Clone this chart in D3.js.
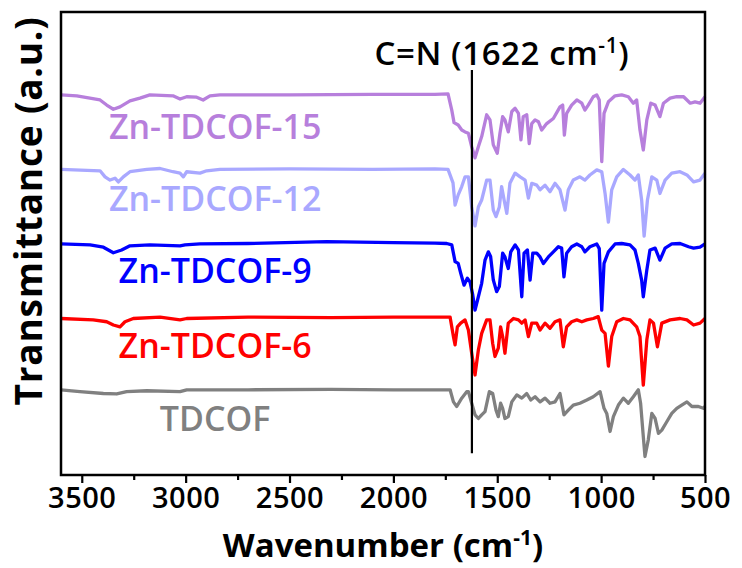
<!DOCTYPE html>
<html>
<head>
<meta charset="utf-8">
<script src="https://cdn.jsdelivr.net/npm/d3@7"></script>
<style>
  html, body { margin: 0; padding: 0; background: #fff; }
  svg { display: block; }
  text { font-family: "Open Sans", "Noto Sans", sans-serif; }
</style>
</head>
<body>
<svg id="chart" width="742" height="568"></svg>
<script>
// FTIR spectra, stacked (wavenumber in cm-1, transmittance in a.u.)
const seriesNames = ["Zn-TDCOF-15", "Zn-TDCOF-12", "Zn-TDCOF-9", "Zn-TDCOF-6", "TDCOF"];
const seriesColors = ["#b77fdc", "#a9a8ff", "#0000ff", "#ff0000", "#808080"];

const znTdcof15 = [
  [3600, 82.1], [3524, 81.9], [3412, 81.0], [3380, 79.9], [3348, 79.0], [3316, 79.5], [3268, 80.8],
  [3220, 81.4], [3172, 82.1], [3061, 81.9], [3027, 81.2], [2995, 81.7], [2947, 81.6], [2916, 81.0],
  [2883, 81.9], [2835, 82.1], [2500, 82.1], [2100, 82.2], [1800, 82.2], [1737, 82.3], [1719, 78.8],
  [1708, 76.1], [1688, 75.6], [1671, 74.5], [1655, 74.1], [1639, 73.8], [1623, 70.9], [1607, 68.5],
  [1591, 70.9], [1575, 73.1], [1551, 77.8], [1535, 76.7], [1519, 71.3], [1500, 69.5], [1487, 73.8],
  [1474, 77.4], [1463, 76.7], [1447, 74.1], [1430, 78.5], [1414, 79.2], [1398, 78.1], [1386, 72.4],
  [1375, 77.4], [1358, 77.8], [1346, 71.6], [1334, 75.9], [1318, 76.7], [1302, 76.3], [1286, 74.5],
  [1262, 75.9], [1230, 77.0], [1198, 79.5], [1185, 79.9], [1177, 73.4], [1166, 78.1], [1142, 79.9],
  [1117, 81.0], [1093, 80.3], [1078, 78.8], [1062, 79.9], [1038, 81.7], [1021, 82.1], [1009, 81.0],
  [997, 67.7], [986, 78.1], [965, 80.6], [933, 81.9], [901, 82.1], [869, 81.7], [845, 80.3],
  [829, 81.0], [813, 74.5], [797, 70.2], [780, 76.7], [761, 80.3], [740, 79.9], [717, 77.4],
  [700, 80.3], [668, 81.4], [636, 81.7], [603, 81.7], [571, 80.3], [548, 80.6], [524, 80.3], [500, 81.7]
];

const znTdcof12 = [
  [3600, 66.0], [3412, 65.7], [3388, 64.4], [3364, 63.7], [3340, 64.1], [3324, 63.3], [3300, 64.4],
  [3268, 65.5], [3187, 66.0], [3123, 66.2], [3061, 65.5], [3027, 65.2], [3011, 64.4], [2995, 65.5],
  [2931, 65.2], [2899, 65.7], [2835, 66.0], [2500, 66.1], [2100, 66.0], [1800, 66.1], [1737, 66.0],
  [1713, 63.1], [1703, 58.3], [1688, 60.5], [1671, 62.3], [1655, 64.4], [1639, 64.4], [1623, 57.9],
  [1607, 53.8], [1591, 57.9], [1575, 59.4], [1551, 63.7], [1535, 63.7], [1519, 57.2], [1506, 55.8],
  [1490, 57.9], [1479, 62.3], [1467, 59.4], [1454, 56.5], [1439, 63.0], [1414, 65.2], [1390, 64.4],
  [1366, 63.7], [1350, 59.8], [1334, 63.0], [1310, 62.6], [1294, 61.6], [1270, 62.6], [1246, 61.2],
  [1222, 63.0], [1198, 61.6], [1174, 57.2], [1158, 61.6], [1134, 63.7], [1102, 64.4], [1078, 63.7],
  [1054, 64.8], [1021, 65.9], [997, 65.5], [981, 60.8], [965, 54.6], [949, 61.6], [925, 64.4],
  [893, 66.0], [861, 64.8], [837, 63.7], [821, 64.8], [805, 59.4], [793, 51.6], [777, 59.4],
  [756, 64.4], [732, 63.7], [717, 60.8], [692, 63.7], [660, 65.2], [620, 65.5], [587, 64.8],
  [555, 63.3], [524, 63.7], [500, 65.2]
];

const znTdcof9 = [
  [3600, 49.9], [3460, 49.7], [3396, 49.2], [3348, 48.0], [3308, 48.6], [3268, 49.5], [3172, 49.7],
  [3027, 49.5], [3003, 49.7], [2931, 49.9], [2700, 50.0], [2321, 50.4], [2000, 50.2], [1800, 50.1],
  [1743, 50.0], [1719, 49.7], [1703, 46.1], [1688, 45.7], [1676, 43.6], [1660, 41.0], [1644, 42.5],
  [1631, 41.7], [1618, 38.9], [1607, 35.6], [1591, 38.5], [1575, 41.4], [1559, 46.4], [1543, 48.2],
  [1532, 47.2], [1519, 42.1], [1503, 39.6], [1490, 40.7], [1474, 47.9], [1463, 47.1], [1447, 44.6],
  [1435, 48.2], [1414, 49.7], [1398, 48.6], [1382, 38.5], [1371, 47.9], [1355, 48.6], [1342, 42.1],
  [1329, 47.9], [1310, 47.9], [1294, 47.1], [1278, 45.7], [1254, 47.1], [1230, 48.2], [1206, 49.3],
  [1190, 49.0], [1179, 42.8], [1166, 47.9], [1142, 49.3], [1117, 49.9], [1093, 49.3], [1078, 48.2],
  [1054, 49.3], [1021, 49.9], [1009, 48.9], [997, 35.6], [986, 45.7], [965, 48.2], [933, 49.9],
  [901, 50.0], [861, 49.7], [837, 48.6], [821, 45.7], [805, 42.1], [797, 38.5], [780, 44.3],
  [765, 48.6], [740, 49.0], [717, 46.4], [692, 49.0], [660, 49.9], [620, 50.0], [579, 49.3],
  [555, 49.0], [524, 49.2], [500, 49.9]
];

const znTdcof6 = [
  [3600, 33.8], [3445, 33.5], [3380, 33.1], [3348, 32.4], [3316, 32.0], [3292, 33.1], [3252, 33.8],
  [3123, 34.1], [3027, 33.5], [2995, 33.8], [2700, 34.1], [2300, 34.0], [2000, 34.1], [1800, 34.1],
  [1727, 34.1], [1711, 29.9], [1703, 28.1], [1692, 32.0], [1676, 32.8], [1655, 33.5], [1639, 31.3],
  [1623, 26.3], [1607, 21.6], [1591, 27.0], [1575, 30.6], [1551, 33.5], [1535, 33.5], [1522, 28.4],
  [1511, 25.6], [1495, 27.4], [1484, 32.0], [1474, 29.9], [1463, 26.3], [1447, 32.8], [1422, 33.8],
  [1398, 33.5], [1382, 32.8], [1366, 33.5], [1350, 29.9], [1334, 32.8], [1310, 32.8], [1294, 31.3],
  [1270, 32.8], [1246, 31.7], [1222, 33.1], [1198, 33.5], [1182, 27.7], [1166, 32.0], [1142, 33.1],
  [1117, 33.5], [1093, 33.1], [1069, 33.5], [1038, 33.8], [1014, 34.2], [997, 31.3], [981, 30.6],
  [965, 23.5], [949, 29.9], [925, 33.1], [893, 33.8], [861, 33.5], [829, 32.0], [813, 29.9],
  [797, 19.4], [780, 29.2], [765, 33.5], [748, 32.8], [729, 27.7], [708, 32.8], [668, 33.5],
  [620, 33.8], [587, 33.5], [555, 32.4], [524, 32.8], [500, 33.8]
];

const tdcof = [
  [3600, 18.4], [3509, 18.0], [3396, 17.6], [3332, 17.5], [3284, 18.0], [3187, 18.2], [3027, 18.0],
  [2995, 18.4], [2700, 18.4], [2300, 18.5], [2000, 18.4], [1800, 18.4], [1727, 18.4], [1711, 15.8],
  [1695, 14.8], [1671, 16.6], [1647, 18.0], [1639, 18.0], [1623, 15.5], [1607, 13.0], [1591, 12.2],
  [1575, 13.0], [1559, 13.7], [1538, 18.0], [1522, 17.6], [1506, 14.0], [1495, 12.6], [1484, 15.5],
  [1474, 14.4], [1463, 12.2], [1447, 12.6], [1430, 15.8], [1406, 17.3], [1382, 16.6], [1358, 17.6],
  [1339, 16.2], [1318, 16.9], [1294, 15.8], [1270, 16.6], [1246, 15.5], [1222, 15.8], [1198, 17.6],
  [1179, 13.0], [1158, 14.0], [1134, 15.1], [1102, 15.5], [1069, 16.2], [1038, 16.9], [1005, 18.0],
  [986, 14.4], [973, 13.3], [957, 9.4], [941, 12.6], [917, 15.1], [893, 16.6], [869, 15.5],
  [845, 16.9], [821, 18.4], [810, 15.5], [797, 8.3], [789, 4.0], [773, 7.6], [756, 13.3],
  [740, 12.2], [724, 9.0], [708, 9.7], [684, 11.5], [660, 13.3], [636, 14.4], [612, 15.1],
  [587, 15.8], [563, 14.8], [532, 14.8], [508, 14.4], [500, 14.8]
];

const seriesData = [znTdcof15, znTdcof12, znTdcof9, znTdcof6, tdcof];
// label height (a.u.) for each spectrum name
const labelLevels = [72.6, 57.0, 41.5, 25.3, 9.5];

const xTicks = [3500, 3000, 2500, 2000, 1500, 1000, 500];
const xMinorTicks = [3250, 2750, 2250, 1750, 1250, 750];
const cnPeak = 1622;

const margin = { left: 61, right: 37, top: 12, bottom: 93 };
const W = 742, H = 568;
const iw = W - margin.left - margin.right;
const ih = H - margin.top - margin.bottom;

const svg = d3.select("#chart");
const g = svg.append("g").attr("transform", `translate(${margin.left},${margin.top})`);

const x = d3.scaleLinear().domain([3600, 500]).range([0, iw]);
const y = d3.scaleLinear().domain([0, 100]).range([ih, 0]);

// minor ticks
g.append("g")
  .attr("transform", `translate(0,${ih})`)
  .call(d3.axisBottom(x).tickValues(xMinorTicks).tickSize(5).tickFormat(""))
  .call(s => s.select(".domain").remove())
  .selectAll("line").attr("stroke", "#000").attr("stroke-width", 2.2);

// major ticks + labels
const xAxis = g.append("g")
  .attr("transform", `translate(0,${ih})`)
  .call(d3.axisBottom(x).tickValues(xTicks).tickSize(8).tickPadding(4).tickFormat(d3.format("d")));
xAxis.select(".domain").remove();
xAxis.selectAll("line").attr("stroke", "#000").attr("stroke-width", 2.2);
xAxis.selectAll("text")
  .attr("fill", "#000")
  .style("font-size", "29px")
  .style("font-weight", 600)
  .style("letter-spacing", "0.5px");

// spectra
const line = d3.line().x(d => x(d[0])).y(d => y(d[1])).curve(d3.curveLinear);
g.append("g").selectAll("path")
  .data(seriesData)
  .join("path")
  .attr("d", line)
  .attr("fill", "none")
  .attr("stroke", (d, i) => seriesColors[i])
  .attr("stroke-width", 3.3)
  .attr("stroke-linejoin", "round");

// series names
g.append("g").selectAll("text")
  .data(seriesNames)
  .join("text")
  .attr("x", x(2858))
  .attr("y", (d, i) => y(labelLevels[i]))
  .attr("text-anchor", "middle")
  .attr("fill", (d, i) => seriesColors[i])
  .style("font-size", "34px")
  .style("font-weight", 600)
  .text(d => d);

// C=N marker line and label
g.append("line")
  .attr("x1", x(cnPeak)).attr("x2", x(cnPeak))
  .attr("y1", y(87.5)).attr("y2", y(4.7))
  .attr("stroke", "#000").attr("stroke-width", 2.2);

const cn = g.append("text")
  .attr("x", x(cnPeak) + 30)
  .attr("y", y(88.5))
  .attr("text-anchor", "middle")
  .attr("fill", "#000")
  .style("font-size", "33px")
  .style("font-weight", 600)
  .style("letter-spacing", "0.6px");
cn.append("tspan").text("C=N (" + cnPeak + " cm");
cn.append("tspan").attr("dy", -12).style("font-size", "21px").text("-1");
cn.append("tspan").attr("dy", 12).text(")");

// frame
g.append("rect")
  .attr("x", 0).attr("y", 0).attr("width", iw).attr("height", ih)
  .attr("fill", "none").attr("stroke", "#000").attr("stroke-width", 2.5);

// axis titles
const xt = svg.append("text")
  .attr("x", margin.left + iw / 2)
  .attr("y", 557)
  .attr("text-anchor", "middle")
  .attr("fill", "#000")
  .style("font-size", "33px")
  .style("font-weight", 700);
xt.append("tspan").text("Wavenumber (cm");
xt.append("tspan").attr("dy", -12).style("font-size", "21px").text("-1");
xt.append("tspan").attr("dy", 12).text(")");

svg.append("text")
  .attr("transform", `translate(42,${margin.top + 199}) rotate(-90)`)
  .attr("text-anchor", "middle")
  .attr("fill", "#000")
  .style("font-size", "37px")
  .style("font-weight", 700)
  .style("letter-spacing", "0.8px")
  .text("Transmittance (a.u.)");
</script>
</body>
</html>
